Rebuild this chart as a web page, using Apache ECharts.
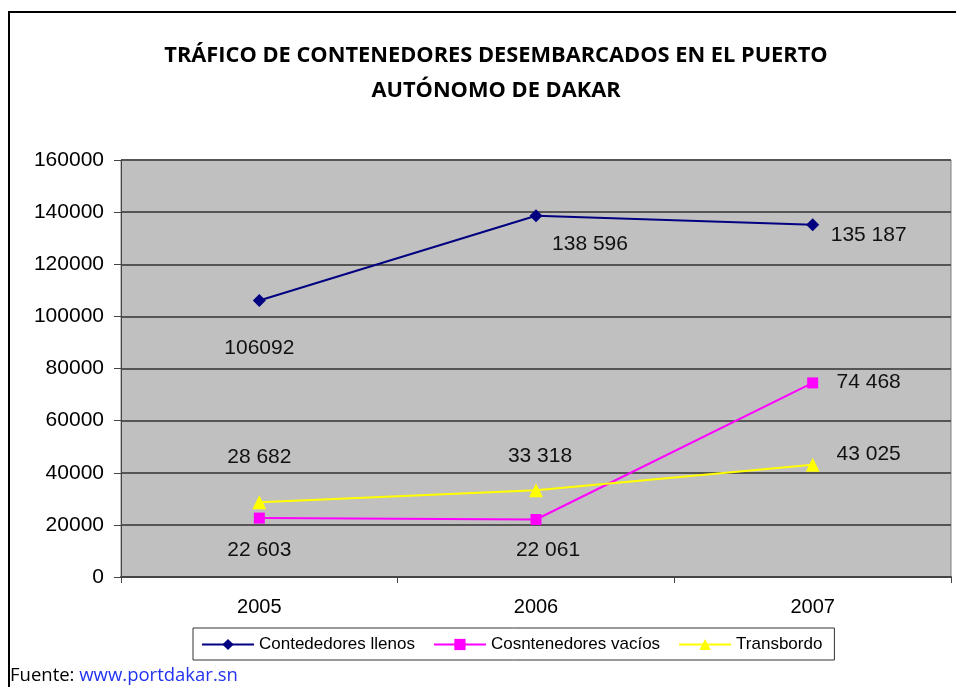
<!DOCTYPE html>
<html>
<head>
<meta charset="utf-8">
<script src="https://cdn.jsdelivr.net/npm/echarts@6/dist/echarts.min.js"></script>
<style>
  html, body { margin: 0; padding: 0; background: #fff; }
  #chart_content { width: 956px; height: 687px; }
</style>
</head>
<body>
<div id="chart_content"></div>
<script>
let years = ['2005', '2006', '2007'];
let llenos = [106092, 138596, 135187];
let vacios = [22603, 22061, 74468];
let transbordo = [28682, 33318, 43025];
let llenosText = ['106092', '138 596', '135 187'];
let vaciosText = ['22 603', '22 061', '74 468'];
let transbordoText = ['28 682', '33 318', '43 025'];
let seriesNames = ['Contededores llenos', 'Cosntenedores vacíos', 'Transbordo'];

let labelFont = { color: '#111', fontSize: 21, fontFamily: 'Liberation Sans, Arial, sans-serif' };

// build data points with their own label placement
function points(values, texts, offsets) {
    return values.map(function (v, i) {
        return {
            value: v,
            label: Object.assign({
                show: true,
                position: 'inside',
                offset: offsets[i],
                formatter: texts[i]
            }, labelFont)
        };
    });
}

let chart = echarts.init(document.getElementById('chart_content'));
let option = {
    animation: false,
    backgroundColor: '#fff',
    title: {
        text: 'TRÁFICO DE CONTENEDORES DESEMBARCADOS EN EL PUERTO\nAUTÓNOMO DE DAKAR',
        left: 491,
        top: 33,
        textAlign: 'center',
        textStyle: {
            fontFamily: 'Open Sans, sans-serif',
            fontWeight: 'bold',
            fontSize: 21.8,
            lineHeight: 35,
            color: '#000'
        }
    },
    graphic: [
        {
            type: 'rect',
            shape: { x: 9, y: 12, width: 960, height: 700 },
            style: { fill: null, stroke: '#000', lineWidth: 2 },
            silent: true
        },
        {
            type: 'text',
            left: 10,
            top: 666,
            style: {
                text: '{a|Fuente: }{b|www.portdakar.sn}',
                rich: {
                    a: { fontFamily: 'Open Sans, sans-serif', fontSize: 18.5, fill: '#000' },
                    b: { fontFamily: 'Open Sans, sans-serif', fontSize: 18.5, fill: '#2233ee' }
                }
            }
        }
    ],
    legend: {
        data: seriesNames,
        left: 193,
        top: 628,
        padding: [8, 12, 7, 8],
        borderColor: '#333',
        borderWidth: 1,
        itemWidth: 52,
        itemHeight: 14,
        itemGap: 18,
        textStyle: {
            fontFamily: 'Liberation Sans, Arial, sans-serif',
            fontSize: 17,
            color: '#000'
        }
    },
    grid: {
        left: 121,
        right: 5,
        top: 160,
        bottom: 110,
        show: true,
        backgroundColor: '#c0c0c0',
        borderColor: '#808080',
        borderWidth: 1
    },
    xAxis: {
        type: 'category',
        data: years,
        boundaryGap: true,
        axisLine: { lineStyle: { color: '#444', width: 2 } },
        axisTick: { show: true, alignWithLabel: false, length: 6, lineStyle: { color: '#444' } },
        axisLabel: {
            margin: 20,
            fontSize: 20,
            color: '#000',
            fontFamily: 'Liberation Sans, Arial, sans-serif'
        }
    },
    yAxis: {
        type: 'value',
        min: 0,
        max: 160000,
        interval: 20000,
        axisLine: { show: true, lineStyle: { color: '#444' } },
        axisTick: { show: true, length: 7, lineStyle: { color: '#444' } },
        axisLabel: {
            margin: 17,
            fontSize: 21,
            color: '#000',
            fontFamily: 'Liberation Sans, Arial, sans-serif',
            formatter: function (v) { return String(v); }
        },
        splitLine: { lineStyle: { color: '#555', width: 2 } }
    },
    series: [
        {
            name: seriesNames[0],
            type: 'line',
            data: points(llenos, llenosText, [[0, 48], [54, 28], [56, 11]]),
            symbol: 'diamond',
            symbolSize: 13,
            lineStyle: { color: '#000080', width: 2 },
            itemStyle: { color: '#000080' }
        },
        {
            name: seriesNames[1],
            type: 'line',
            data: points(vacios, vaciosText, [[0, 32], [12, 31], [56, -1]]),
            symbol: 'rect',
            symbolSize: 11,
            lineStyle: { color: '#ff00ff', width: 2 },
            itemStyle: { color: '#ff00ff' }
        },
        {
            name: seriesNames[2],
            type: 'line',
            data: points(transbordo, transbordoText, [[0, -45], [4, -34], [56, -11]]),
            symbol: 'triangle',
            symbolSize: 14,
            lineStyle: { color: '#ffff00', width: 2 },
            itemStyle: { color: '#ffff00' }
        }
    ]
};
chart.setOption(option);
</script>
</body>
</html>
